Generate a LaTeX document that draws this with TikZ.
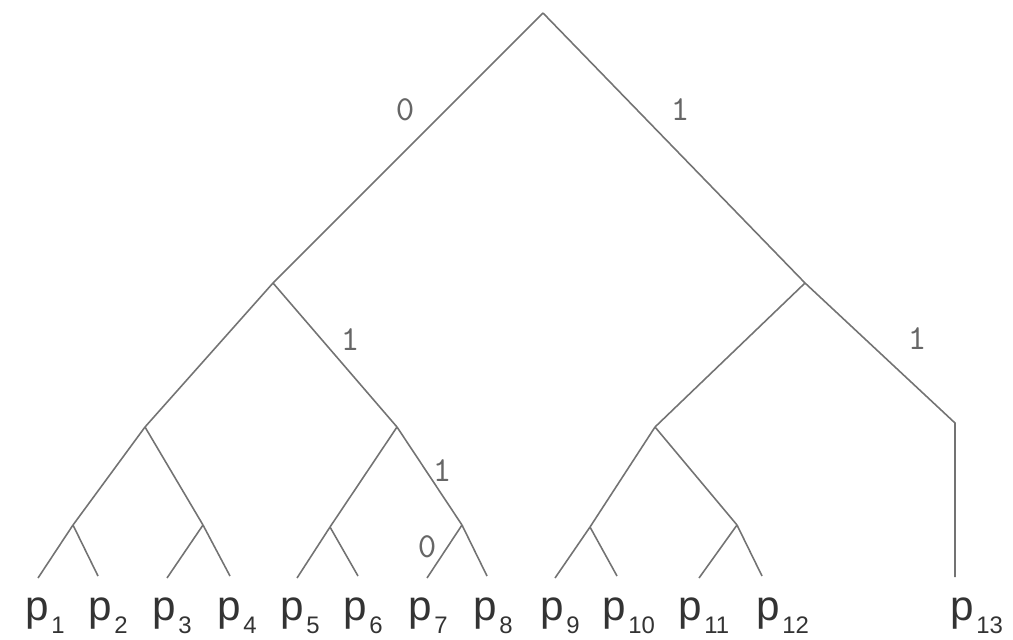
\documentclass[tikz,border=0pt]{standalone}
\usepackage{fontspec}
\usepackage{tikz}
\usetikzlibrary{positioning}
\newfontfamily\leaffont{Liberation Sans}
\newcommand{\pleaf}[1]{p\hspace{0.6pt}\raisebox{-3.9pt}{\fontsize{6.8}{8}\selectfont #1}}

\begin{document}
\begin{tikzpicture}[
  x=0.01cm, y=-0.01cm,
  edge/.style = {draw=black!55, line width=0.45pt},
  bit/.style  = {text=black!60, font=\ttfamily\fontsize{10}{11}\selectfont,
                 inner sep=0pt},
  leaf/.style = {text=black!80, font=\leaffont\fontsize{12}{14}\selectfont,
                 inner sep=0pt, anchor=base west}
]
  \useasboundingbox (0,0) rectangle (1013,639);

  % inner vertices
  \coordinate (root) at (543,13);
  \coordinate (n0)   at (273,283);
  \coordinate (n1)   at (805,283);
  \coordinate (n00)  at (145,427);
  \coordinate (n01)  at (397,427);
  \coordinate (n10)  at (655,427);
  \coordinate (n11)  at (955,423);
  \coordinate (n000) at (73,525);
  \coordinate (n001) at (203,525);
  \coordinate (n010) at (330,527);
  \coordinate (n011) at (462,525);
  \coordinate (n100) at (590,527);
  \coordinate (n101) at (737,525);

  % leaf ends and their labels
  \foreach \i/\ex/\ey/\lx in {1/38/578/25, 2/98/576/88, 3/167/578/152,
      4/230/576/217, 5/297/578/280, 6/358/576/343, 7/427/578/408,
      8/487/576/473, 9/555/578/540, 10/617/576/602, 11/699/578/678,
      12/762/576/756, 13/955/577/950}{
    \coordinate (e\i) at (\ex,\ey);
    \node[leaf] (p\i) at (\lx,620) {\pleaf{\i}};
  }

  \draw[edge] (root) -- (n0)  (root) -- (n1);
  \draw[edge] (n0) -- (n00)   (n0) -- (n01);
  \draw[edge] (n1) -- (n10)   (n1) -- (n11) -- (e13);
  \draw[edge] (n00) -- (n000) (n00) -- (n001);
  \draw[edge] (n01) -- (n010) (n01) -- (n011);
  \draw[edge] (n10) -- (n100) (n10) -- (n101);
  \draw[edge] (n000) -- (e1)  (n000) -- (e2);
  \draw[edge] (n001) -- (e3)  (n001) -- (e4);
  \draw[edge] (n010) -- (e5)  (n010) -- (e6);
  \draw[edge] (n011) -- (e7)  (n011) -- (e8);
  \draw[edge] (n100) -- (e9)  (n100) -- (e10);
  \draw[edge] (n101) -- (e11) (n101) -- (e12);

  % branch bits
  \node[bit] (b0)    at (405,110) {0};
  \node[bit] (b1)    at (680,110) {1};
  \node[bit] (b01)   at (350,340) {1};
  \node[bit] (b11)   at (917,339) {1};
  \node[bit] (b011)  at (442,471) {1};
  \node[bit] (b0110) at (427,547) {0};
\end{tikzpicture}
\end{document}
